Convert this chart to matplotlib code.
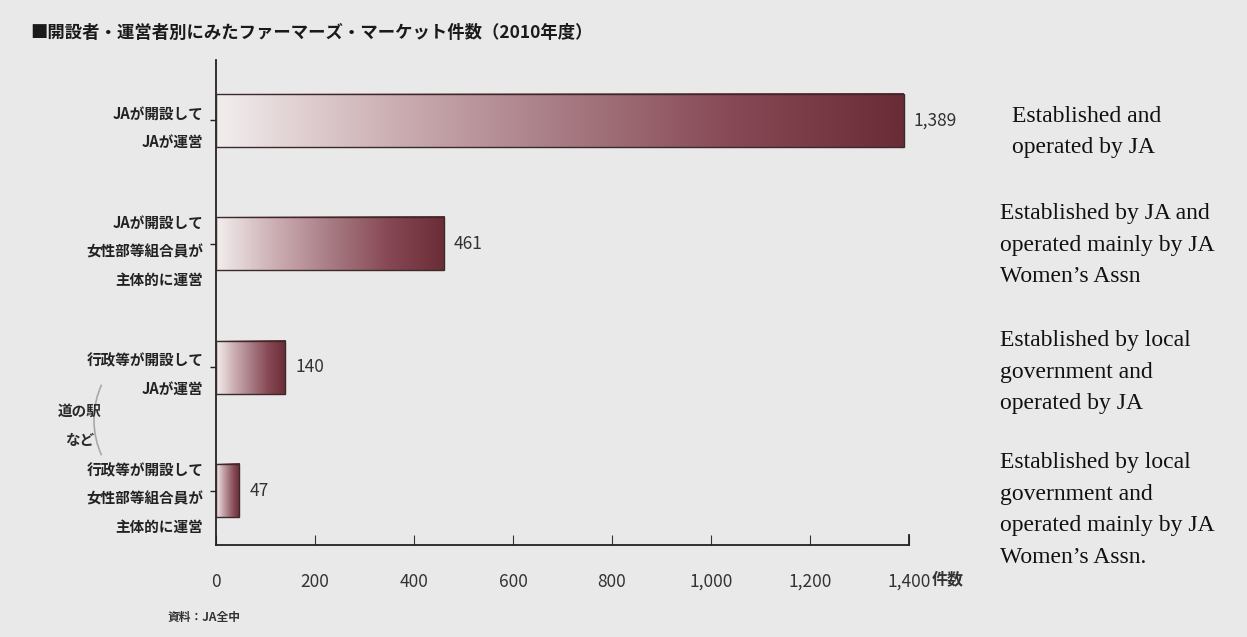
import matplotlib
matplotlib.use("Agg")
import matplotlib.pyplot as plt
import numpy as np
from matplotlib.colors import LinearSegmentedColormap
from matplotlib.patches import Rectangle, Arc
from matplotlib.ticker import FuncFormatter

plt.rcParams['font.family'] = ['Noto Sans CJK JP', 'DejaVu Sans']

title = "■開設者・運営者別にみたファーマーズ・マーケット件数（2010年度）"
categories = [
    "JAが開設して\nJAが運営",
    "JAが開設して\n女性部等組合員が\n主体的に運営",
    "行政等が開設して\nJAが運営",
    "行政等が開設して\n女性部等組合員が\n主体的に運営",
]
values = [1389, 461, 140, 47]
english_notes = [
    "Established and\noperated by JA",
    "Established by JA and\noperated mainly by JA\nWomen’s Assn",
    "Established by local\ngovernment and\noperated by JA",
    "Established by local\ngovernment and\noperated mainly by JA\nWomen’s Assn.",
]
xticks = [0, 200, 400, 600, 800, 1000, 1200, 1400]
unit_label = "件数"
source = "資料：JA全中"
group_label = "道の駅\nなど"

bar_cmap = LinearSegmentedColormap.from_list(
    "maroon", ["#f2eeee", "#cdb0b4", "#a87c84", "#874955", "#6a2c36"])

fig = plt.figure(figsize=(12.47, 6.37), dpi=100, facecolor="#e9e9e9")
ax = fig.add_axes([216 / 1247, 1 - 545 / 637, 693 / 1247, 485 / 637])
ax.set_facecolor("none")

ypos = np.arange(len(values))
h = 0.43
grad = np.linspace(0, 1, 256).reshape(1, -1)
for y, v in zip(ypos, values):
    ax.imshow(grad, cmap=bar_cmap, aspect="auto", interpolation="bilinear",
              extent=[0, v, y + h / 2, y - h / 2], zorder=2)
    ax.add_patch(Rectangle((0, y - h / 2), v, h, fill=False,
                           edgecolor="#3a2a2c", lw=1.0, zorder=3))
    ax.text(v + 20, y, f"{v:,}", va="center", ha="left", fontsize=12.5,
            color="#333333")

ax.set_xlim(0, 1400)
ax.set_ylim(3.44, -0.49)
ax.set_yticks(ypos)
ax.set_yticklabels(categories, fontsize=10.5, fontweight="bold",
                   color="#2a2a2a", linespacing=1.95)
ax.set_xticks(xticks)
ax.xaxis.set_major_formatter(FuncFormatter(lambda x, p: f"{int(x):,}"))
ax.tick_params(axis="x", direction="in", length=7, labelsize=12.5,
               colors="#333333", pad=20)
ax.tick_params(axis="y", length=4, width=1, colors="#222222", pad=5)
ax.spines["top"].set_visible(False)
ax.spines["right"].set_bounds(3.44, 3.36)
for s in ["left", "bottom", "right"]:
    ax.spines[s].set_color("#222222")
    ax.spines[s].set_linewidth(1.3)
ax.annotate(unit_label, xy=(xticks[-1], 3.44), xytext=(16, -25),
            textcoords="offset points", annotation_clip=False,
            fontsize=11.5, fontweight="bold", color="#333333",
            ha="left", va="center")

fig.text(30 / 1247, 1 - 33 / 637, title, fontsize=12.5, fontweight="bold",
         color="#1a1a1a", va="center", ha="left")
fig.text(168 / 1247, 1 - 617 / 637, source, fontsize=8.5, fontweight="bold",
         color="#333333", va="center", ha="left")
fig.text(80 / 1247, 1 - 425 / 637, group_label, fontsize=10.5,
         fontweight="bold", color="#2a2a2a", va="center", ha="center",
         linespacing=2.0)
fig.add_artist(Arc((150 / 1247, 1 - 420 / 637), 112 / 1247, 140 / 637,
                   theta1=125, theta2=235, transform=fig.transFigure,
                   color="#a8a8a8", lw=1.2))

note_x = [1012, 1000, 1000, 1000]
note_y = [132, 245, 372, 510]
for nx, ny, note in zip(note_x, note_y, english_notes):
    fig.text(nx / 1247, 1 - ny / 637, note, family="Liberation Serif",
             fontsize=17, color="#111111", va="center", ha="left",
             linespacing=1.65)

fig.savefig("out.png", dpi=100, facecolor=fig.get_facecolor())
